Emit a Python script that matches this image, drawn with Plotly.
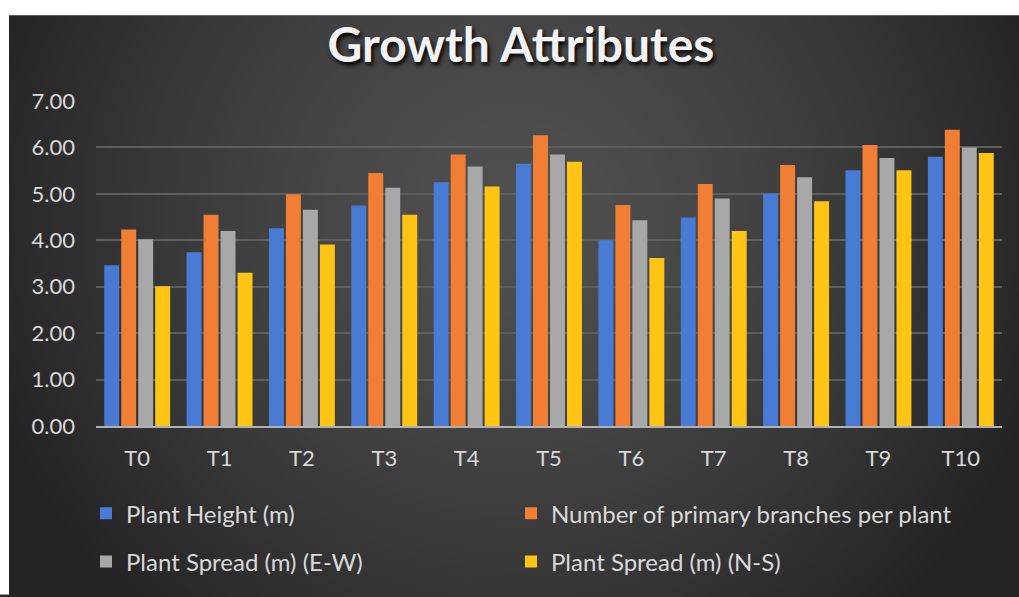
import base64, struct, zlib
import numpy as np
import plotly.graph_objects as go

categories = ["T0", "T1", "T2", "T3", "T4", "T5", "T6", "T7", "T8", "T9", "T10"]
plant_height = [3.46, 3.74, 4.26, 4.75, 5.25, 5.65, 4.00, 4.49, 5.01, 5.51, 5.80]
primary_branches = [4.23, 4.55, 4.99, 5.45, 5.85, 6.26, 4.76, 5.21, 5.62, 6.05, 6.38]
spread_ew = [4.02, 4.20, 4.66, 5.13, 5.59, 5.85, 4.43, 4.90, 5.36, 5.77, 6.00]
spread_ns = [3.01, 3.30, 3.91, 4.55, 5.16, 5.69, 3.62, 4.20, 4.84, 5.51, 5.88]
y_ticks = [0, 1, 2, 3, 4, 5, 6, 7]
y_tick_labels = ["0.00", "1.00", "2.00", "3.00", "4.00", "5.00", "6.00", "7.00"]

W, H = 1019, 597
ML, MR, MT, MB = 96, 17, 101, 166
PW, PH = W - ML - MR, H - MT - MB
FONT = "Lato, 'Open Sans', sans-serif"
TXT = "#d9d9d9"
PAD = 40


def px_x(p):
    return (p - ML) / PW


def px_y(p):
    return (MT + PH - p) / PH


def gradient_png(w, h, vw, vh):
    yy, xx = np.mgrid[0:h, 0:w]
    cx, cy = vw * 0.5, vh * 0.35
    r = np.sqrt(((xx - cx) / (vw * 0.55)) ** 2 + ((yy - cy) / (vh * 0.95)) ** 2)
    r = np.clip(r, 0, 1)
    v = 80 - (80 - 36) * r ** 1.4
    v = v.astype(np.uint8)
    raw = b"".join(b"\x00" + v[i].tobytes() for i in range(h))

    def chunk(t, d):
        c = struct.pack(">I", len(d)) + t + d
        return c + struct.pack(">I", zlib.crc32(t + d) & 0xffffffff)

    png = b"\x89PNG\r\n\x1a\n" + chunk(b"IHDR", struct.pack(">IIBBBBB", w, h, 8, 0, 0, 0, 0))
    png += chunk(b"IDAT", zlib.compress(raw, 9)) + chunk(b"IEND", b"")
    return "data:image/png;base64," + base64.b64encode(png).decode()


bg_left, bg_top = 9, 14
bg_w, bg_h = W - bg_left + PAD, H - bg_top + PAD
bg_src = gradient_png(bg_w, bg_h, W - bg_left, H - bg_top)

series = [
    ("Plant Height (m)", plant_height, "#4a7bd4", "legend", 86, 520),
    ("Number of primary branches per plant", primary_branches, "#f07f35", "legend2", 511, 520),
    ("Plant Spread (m) (E-W)", spread_ew, "#a8a8a8", "legend3", 86, 569),
    ("Plant Spread (m) (N-S)", spread_ns, "#ffc414", "legend4", 511, 569),
]

fig = go.Figure()
legends = {}
for name, vals, color, leg, lx, ly in series:
    fig.add_trace(go.Bar(x=categories, y=vals, name=name, legend=leg, showlegend=True,
                         marker=dict(color=color, line=dict(width=0)),
                         hoverinfo="x+y+name"))
    legends[leg] = dict(orientation="h", xanchor="left", yanchor="middle",
                        x=px_x(lx), y=px_y(ly), visible=True,
                        font=dict(family=FONT, size=24, color=TXT),
                        bgcolor="rgba(0,0,0,0)",
                        itemclick=False, itemdoubleclick=False)

fig.update_layout(
    width=W, height=H,
    showlegend=True,
    margin=dict(l=ML, r=MR, t=MT, b=MB, pad=0),
    paper_bgcolor="#2a2a2a",
    plot_bgcolor="rgba(0,0,0,0)",
    barmode="group", bargap=0.175, bargroupgap=0.12,
    title=dict(text="<b>Growth Attributes</b>", x=521 / W, xref="container", xanchor="center",
               y=1 - 45 / H, yref="container", yanchor="middle",
               font=dict(family=FONT, size=48, color="#f2f2f2", shadow="2px 3px 4px #000000")),
    xaxis=dict(showgrid=False, showline=True, linecolor="#b0b0b0", linewidth=2,
               tickfont=dict(family=FONT, size=22, color=TXT), ticks="",
               ticklabelstandoff=12, zeroline=False),
    yaxis=dict(range=[0, 7], tickvals=y_ticks, ticktext=y_tick_labels,
               showgrid=True, gridcolor="#5e5e5e", gridwidth=1.5, zeroline=False,
               showline=False, ticks="", ticklabelstandoff=20,
               tickfont=dict(family=FONT, size=22, color=TXT)),
    images=[dict(source=bg_src, xref="paper", yref="paper",
                 x=px_x(bg_left), y=px_y(bg_top),
                 sizex=bg_w / PW, sizey=bg_h / PH,
                 xanchor="left", yanchor="top", sizing="stretch", layer="below")],
    shapes=[
        dict(type="rect", xref="paper", yref="paper", layer="above",
             x0=px_x(-5), x1=px_x(W + 5), y0=px_y(bg_top), y1=px_y(-5),
             fillcolor="white", line=dict(width=0)),
        dict(type="rect", xref="paper", yref="paper", layer="above",
             x0=px_x(-5), x1=px_x(bg_left), y0=px_y(H + 5), y1=px_y(-5),
             fillcolor="white", line=dict(width=0)),
    ],
    **legends,
)

fig.write_html(
    "out.html",
    post_script=("document.documentElement.style.overflow='hidden';"
                 "document.body.style.overflow='hidden';"
                 "document.body.style.margin='0';"),
)
